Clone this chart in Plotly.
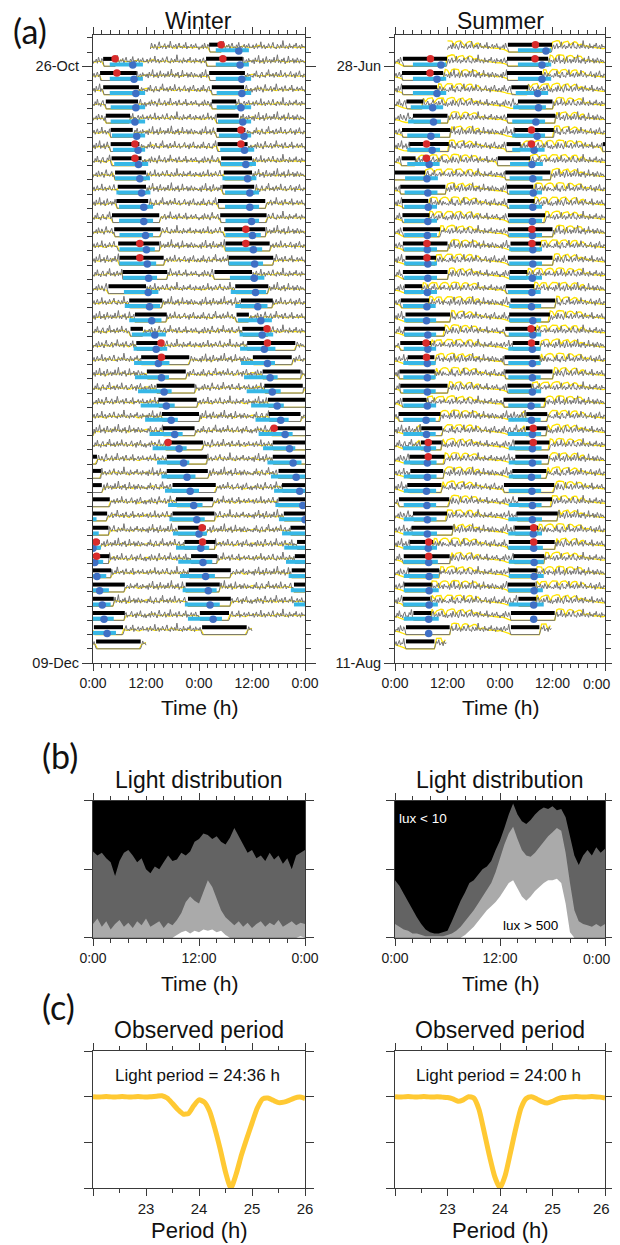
import plotly.graph_objects as go

# The page body adds an 8 px margin, so the figure is drawn 8 px in from the window corner;
# only the first 612 px of the window width are usable.
PAGE_W, PAGE_H, OFF = 620, 1245, 8
FIG_W, FIG_H = PAGE_W - OFF, PAGE_H - OFF
VISIBLE_RIGHT = 611
FONT = "Liberation Sans, Arial, Helvetica, sans-serif"
LABEL_FONT = "Lato, Open Sans, sans-serif"

# ---------------- tick labels ----------------
TIME_TICKS = [0, 12, 24, 36, 48]
TIME_LABELS = ["0:00", "12:00", "0:00", "12:00", "0:00"]
DAY_TICKS = [0, 12, 24]
DAY_LABELS = ["0:00", "12:00", "0:00"]
DATE_ROWS = [2, 9, 16, 23, 30, 37, 44]
W_DATE_LABELS = ["26-Oct", "", "", "", "", "", "09-Dec"]
S_DATE_LABELS = ["28-Jun", "", "", "", "", "", "11-Aug"]
N_ROWS = 43
PERIOD_TICKS = [22, 23, 24, 25, 26]
PERIOD_LABELS = ["", "23", "24", "25", "26"]

# ---------------- (a) Winter episodes, days 2..42 (hours from that day's midnight) ----------------
W_FIRST_DAY = 2
W_BLACK_S = [2.3, 1.6, 2.3, 2.9, 2.9, 4.0, 4.0, 4.2, 5.0, 5.6, 5.3, 4.3, 4.8, 5.7, 6.0, 6.7, 3.5, 8.2, 9.5, 8.5,
             9.8, 10.9, 12.2, 14.4, 14.8, 15.6, 15.8, 16.3, 16.7, 16.7, 18.0, 18.8, 18.0, 19.2, 20.7, 22.2, 21.7,
             21.0, 21.5, 24.2, 24.7]
W_BLACK_E = [5.0, 9.9, 10.4, 10.2, 8.4, 9.0, 10.5, 11.0, 12.0, 12.0, 12.5, 15.0, 15.3, 15.0, 16.0, 16.8, 12.0,
             15.7, 16.7, 11.3, 15.6, 21.8, 21.0, 23.0, 23.5, 24.0, 23.0, 24.9, 25.8, 26.0, 27.8, 27.2, 27.5, 25.5,
             27.7, 28.1, 31.2, 28.7, 31.2, 30.8, 34.8]
W_CYAN_S = [3.8, 3.8, 3.8, 4.0, 4.0, 4.3, 4.5, 4.8, 5.0, 5.3, 5.9, 5.9, 6.0, 6.0, 6.0, 6.8, 7.0, 7.2, 8.2, 8.8,
            9.2, 9.3, 9.5, 10.2, 10.8, 11.8, 12.8, 13.5, 14.5, 15.5, 16.3, 17.0, 17.3, 18.1, 18.8, 19.3, 19.7,
            20.3, 20.8, 21.5, None]
W_CYAN_E = [11.3, 11.3, 11.8, 11.8, 11.8, 11.8, 11.8, 12.5, 12.9, 13.0, 13.6, 13.6, 13.6, 14.0, 14.3, 14.5, 14.8,
            15.2, 15.5, 16.5, 16.8, 17.3, 17.2, 17.8, 18.5, 19.2, 20.3, 21.2, 21.8, 23.2, 24.0, 24.8, 25.3, 25.8,
            26.3, 27.0, 27.6, 28.0, 28.7, 29.2, None]
W_BLUE = [9.0, 9.3, 9.7, 9.7, 9.5, 9.9, 10.2, 10.3, 10.6, 11.0, 11.5, 11.5, 11.9, 12.1, 12.3, 12.6, 12.5, 12.8,
          13.3, 14.0, 14.3, 14.8, 15.5, 16.1, 16.6, 17.7, 18.5, 19.5, 20.5, 21.3, 22.0, 22.8, 23.5, 24.0, 24.4,
          24.9, 25.5, 26.1, 26.5, 27.2, None]
W_RED = [5.0, 5.4, None, None, None, None, 9.5, 9.5, None, None, None, None, None, 10.6, 10.6, None, None, None,
         None, None, 15.4, 15.5, None, None, None, None, None, 17.0, None, None, None, None, None, 24.7, 24.8,
         None, None, None, None, None, None]
W_DATA_START = (1, 13.0)
W_DATA_END = (43, 12.0)

# ---------------- (a) Summer episodes, days 2..43 ----------------
S_FIRST_DAY = 2
S_BLACK_S = [1.8, 1.6, 1.6, 2.6, 4.1, 1.6, 3.3, 1.5, -0.5, 1.2, 1.6, 1.7, 1.8, 1.8, 2.4, 1.8, 2.2, 1.3, 2.4, 2.1,
             1.2, 2.9, 1.0, 1.2, 1.7, 0.8, 6.0, 5.9, 3.3, 3.5, 2.8, 0.9, 4.1, 3.8, 3.4, 2.0, 3.1, 2.1, 1.8, 4.2,
             2.5, 2.5]
S_BLACK_E = [11.9, 11.0, 9.6, 6.4, 12.0, 12.6, 12.3, 4.7, 6.9, 11.5, 7.6, 7.9, 10.3, 12.0, 9.4, 12.0, 6.2, 7.8,
             12.6, 11.4, 8.2, 9.0, 9.1, 12.0, 7.2, 10.4, 10.8, 10.6, 11.3, 11.0, 10.6, 12.4, 11.9, 13.2, 8.7, 12.5,
             10.1, 8.4, 8.0, 8.3, 12.5, 9.0]
S_CYAN_S = [4.1, 4.1, 4.1, 3.6, 3.0, 2.8, 2.8, 2.8, 2.3, 2.2, 2.1, 2.1, 2.1, 2.1, 2.1, 2.1, 2.1, 1.8, 2.1, 2.1,
            2.0, 1.9, 1.9, 1.9, 1.9, 1.9, 1.9, 1.8, 2.0, 2.0, 2.0, 2.0, 2.0, 1.9, 1.9, 1.9, 2.0, 2.0, 1.9, 2.0,
            None, None]
S_CYAN_E = [11.7, 11.7, 11.7, 11.0, 10.5, 10.3, 10.3, 10.2, 9.8, 9.7, 9.6, 9.6, 9.6, 9.6, 9.6, 9.6, 9.6, 9.3,
            9.4, 9.4, 9.4, 9.3, 9.3, 9.3, 9.4, 9.3, 9.3, 9.4, 9.5, 9.5, 9.4, 9.4, 9.5, 9.6, 9.6, 9.8, 10.0, 10.0,
            9.8, 10.0, None, None]
S_BLUE = [10.5, 9.6, 9.6, 8.6, 8.8, 8.2, 8.5, 7.8, 7.3, 7.5, 7.6, 7.5, 7.4, 7.4, 7.5, 7.5, 7.4, 7.3, 7.2, 7.5,
          7.5, 7.4, 7.4, 7.4, 7.4, 7.1, 7.2, 7.4, 7.4, 7.4, 7.2, 7.3, 7.4, 7.4, 7.6, 7.7, 7.8, 7.8, 7.8, 7.7,
          7.7, None]
S_RED = [8.1, 8.0, None, None, None, None, 7.2, 7.2, None, None, None, None, None, 7.3, 7.3, None, None, None,
         None, None, 7.1, 7.2, None, None, None, None, None, 7.6, 7.6, None, None, None, None, None, 7.7, 7.7,
         None, None, None, None, None, None]
S_DATA_START = (1, 12.0)
S_DATA_END = (43, 11.8)

# ---------------- activity counts (15-min bins, 12 h per block) and light (30-min bins) ----------------
ACT_1 = [0.30, 0.55, 0.20, 0.70, 0.35, 0.45, 0.90, 0.25, 0.50, 0.35, 0.65, 0.20, 0.45, 0.80, 0.30, 0.40, 0.60,
         0.25, 0.55, 0.35, 0.75, 0.30, 0.45, 0.95, 0.30, 0.50, 0.25, 0.60, 0.40, 0.70, 0.20, 0.45, 0.35, 0.85,
         0.30, 0.50, 0.40, 0.65, 0.25, 0.55, 0.30, 0.70, 0.45, 0.25, 0.60, 0.35, 0.50, 0.30]
ACT_2 = [0.40, 0.25, 0.60, 0.35, 0.80, 0.30, 0.45, 0.20, 0.55, 0.70, 0.30, 0.40, 0.25, 0.65, 0.45, 0.90, 0.30,
         0.50, 0.35, 0.60, 0.25, 0.45, 0.70, 0.30, 0.55, 0.35, 0.85, 0.40, 0.30, 0.50, 0.65, 0.25, 0.45, 0.35,
         0.60, 0.75, 0.30, 0.40, 0.55, 0.20, 0.65, 0.35, 0.50, 0.80, 0.30, 0.45, 0.25, 0.55]
ACT_3 = [0.20, 0.45, 0.35, 0.60, 0.25, 0.75, 0.40, 0.30, 0.65, 0.45, 0.20, 0.55, 0.85, 0.35, 0.50, 0.30, 0.45,
         0.70, 0.25, 0.40, 0.60, 0.35, 0.90, 0.45, 0.30, 0.55, 0.40, 0.65, 0.25, 0.50, 0.75, 0.35, 0.45, 0.30,
         0.60, 0.40, 0.80, 0.25, 0.50, 0.35, 0.45, 0.65, 0.30, 0.55, 0.40, 0.70, 0.35, 0.45]
ACT_4 = [0.35, 0.60, 0.25, 0.45, 0.70, 0.30, 0.50, 0.40, 0.85, 0.30, 0.45, 0.60, 0.25, 0.50, 0.35, 0.70, 0.45,
         0.30, 0.55, 0.80, 0.35, 0.40, 0.25, 0.65, 0.45, 0.30, 0.60, 0.35, 0.95, 0.40, 0.30, 0.55, 0.45, 0.25,
         0.70, 0.35, 0.50, 0.30, 0.60, 0.45, 0.75, 0.30, 0.40, 0.55, 0.25, 0.65, 0.40, 0.50]
ACT_TEMPLATES = [ACT_1, ACT_2, ACT_3, ACT_4]

WL_1 = [0.35, 0.36, 0.38, 0.40, 0.40, 0.32, 0.30, 0.42, 0.45, 0.44, 0.38, 0.38, 0.42, 0.50, 0.48, 0.35, 0.36,
        0.40, 0.41, 0.45, 0.32, 0.30, 0.38, 0.42, 0.43, 0.48, 0.47, 0.40, 0.35, 0.36, 0.45, 0.44, 0.40, 0.38,
        0.37, 0.50, 0.52, 0.40, 0.41, 0.35, 0.34, 0.42, 0.45, 0.44, 0.38, 0.37, 0.36, 0.35]
WL_2 = [0.40, 0.38, 0.33, 0.33, 0.45, 0.46, 0.40, 0.36, 0.36, 0.55, 0.50, 0.42, 0.38, 0.38, 0.44, 0.44, 0.30,
        0.34, 0.48, 0.47, 0.40, 0.40, 0.36, 0.45, 0.52, 0.50, 0.38, 0.37, 0.42, 0.42, 0.35, 0.48, 0.46, 0.40,
        0.44, 0.44, 0.36, 0.33, 0.40, 0.47, 0.45, 0.38, 0.38, 0.42, 0.40, 0.35, 0.36, 0.40]
WL_3 = [0.32, 0.34, 0.42, 0.42, 0.38, 0.36, 0.46, 0.48, 0.40, 0.35, 0.35, 0.44, 0.44, 0.52, 0.45, 0.38, 0.40,
        0.40, 0.33, 0.46, 0.50, 0.42, 0.42, 0.36, 0.38, 0.46, 0.45, 0.55, 0.48, 0.40, 0.38, 0.38, 0.43, 0.47,
        0.36, 0.34, 0.44, 0.45, 0.40, 0.40, 0.37, 0.48, 0.46, 0.39, 0.36, 0.42, 0.41, 0.34]
W_LIGHT = [WL_1, WL_2, WL_3]

SL_1 = [0.30, 0.28, 0.22, 0.15, 0.08, 0.05, 0.05, 0.08, 0.15, 0.30, 0.50, 0.75, 0.88, 0.90, 0.86, 0.45, 0.80,
        0.92, 0.90, 0.88, 0.35, 0.78, 0.90, 0.92, 0.85, 0.50, 0.88, 0.95, 0.93, 0.90, 0.40, 0.82, 0.90, 0.86,
        0.65, 0.78, 0.84, 0.82, 0.55, 0.45, 0.55, 0.50, 0.42, 0.35, 0.40, 0.36, 0.32, 0.30]
SL_2 = [0.35, 0.30, 0.25, 0.18, 0.10, 0.06, 0.05, 0.10, 0.20, 0.40, 0.65, 0.85, 0.90, 0.50, 0.82, 0.92, 0.95,
        0.90, 0.60, 0.86, 0.90, 0.88, 0.40, 0.75, 0.92, 0.94, 0.90, 0.55, 0.85, 0.90, 0.92, 0.70, 0.50, 0.80,
        0.88, 0.85, 0.45, 0.70, 0.75, 0.50, 0.42, 0.45, 0.38, 0.40, 0.33, 0.36, 0.30, 0.32]
SL_3 = [0.28, 0.30, 0.20, 0.12, 0.08, 0.05, 0.06, 0.12, 0.25, 0.45, 0.60, 0.80, 0.92, 0.88, 0.60, 0.85, 0.90,
        0.93, 0.50, 0.78, 0.88, 0.92, 0.90, 0.45, 0.82, 0.90, 0.95, 0.92, 0.50, 0.80, 0.88, 0.90, 0.60, 0.75,
        0.85, 0.80, 0.55, 0.65, 0.60, 0.48, 0.50, 0.40, 0.45, 0.38, 0.35, 0.33, 0.30, 0.28]
S_LIGHT = [SL_1, SL_2, SL_3]

# ---------------- (b) light distribution: fraction of days per half hour ----------------
HALF_HOURS = [0.0, 0.5, 1.0, 1.5, 2.0, 2.5, 3.0, 3.5, 4.0, 4.5, 5.0, 5.5, 6.0, 6.5, 7.0, 7.5, 8.0, 8.5, 9.0, 9.5,
              10.0, 10.5, 11.0, 11.5, 12.0, 12.5, 13.0, 13.5, 14.0, 14.5, 15.0, 15.5, 16.0, 16.5, 17.0, 17.5,
              18.0, 18.5, 19.0, 19.5, 20.0, 20.5, 21.0, 21.5, 22.0, 22.5, 23.0, 23.5, 24.0]
WB_DARK = [0.63, 0.60, 0.62, 0.58, 0.55, 0.45, 0.56, 0.62, 0.64, 0.60, 0.55, 0.58, 0.50, 0.47, 0.52, 0.50, 0.55,
           0.60, 0.56, 0.57, 0.62, 0.60, 0.63, 0.70, 0.72, 0.76, 0.75, 0.72, 0.74, 0.70, 0.68, 0.73, 0.80, 0.74,
           0.68, 0.62, 0.64, 0.58, 0.60, 0.56, 0.62, 0.57, 0.60, 0.54, 0.58, 0.50, 0.60, 0.62, 0.64]
WB_LIGHT = [0.10, 0.14, 0.08, 0.12, 0.06, 0.10, 0.13, 0.08, 0.11, 0.07, 0.12, 0.09, 0.14, 0.08, 0.10, 0.12, 0.07,
            0.11, 0.09, 0.13, 0.18, 0.26, 0.30, 0.27, 0.25, 0.33, 0.42, 0.37, 0.28, 0.20, 0.15, 0.12, 0.09, 0.12,
            0.08, 0.11, 0.07, 0.10, 0.12, 0.08, 0.11, 0.09, 0.13, 0.08, 0.10, 0.12, 0.09, 0.11, 0.10]
WB_WHITE = [0, 0, 0, 0, 0, 0, 0, 0, 0, 0, 0, 0, 0, 0, 0, 0, 0, 0, 0, 0.02, 0.04, 0.05, 0.03, 0.05, 0.04, 0.06,
            0.05, 0.06, 0.04, 0.05, 0.02, 0, 0, 0, 0, 0, 0, 0, 0, 0, 0, 0, 0, 0, 0, 0, 0, 0.01, 0]
SB_DARK = [0.42, 0.38, 0.32, 0.26, 0.20, 0.15, 0.10, 0.06, 0.04, 0.03, 0.03, 0.04, 0.05, 0.12, 0.20, 0.27, 0.33,
           0.40, 0.42, 0.46, 0.50, 0.52, 0.56, 0.64, 0.71, 0.80, 0.90, 0.98, 0.90, 0.85, 0.83, 0.86, 0.90, 0.93,
           0.95, 0.94, 0.96, 0.93, 0.94, 0.88, 0.74, 0.60, 0.53, 0.60, 0.64, 0.60, 0.66, 0.62, 0.65]
SB_LIGHT = [0.10, 0.08, 0.06, 0.05, 0.03, 0.03, 0.02, 0.01, 0.01, 0.01, 0.01, 0.01, 0.02, 0.03, 0.05, 0.08, 0.12,
            0.16, 0.20, 0.25, 0.30, 0.34, 0.40, 0.48, 0.58, 0.68, 0.76, 0.81, 0.72, 0.64, 0.60, 0.59, 0.62, 0.66,
            0.70, 0.74, 0.77, 0.80, 0.78, 0.62, 0.40, 0.20, 0.12, 0.10, 0.09, 0.08, 0.10, 0.08, 0.10]
SB_WHITE = [0, 0, 0, 0, 0, 0, 0, 0, 0, 0, 0, 0, 0, 0, 0, 0, 0.02, 0.05, 0.08, 0.12, 0.16, 0.20, 0.23, 0.26, 0.30,
            0.35, 0.40, 0.42, 0.36, 0.30, 0.27, 0.30, 0.34, 0.37, 0.40, 0.42, 0.42, 0.43, 0.40, 0.25, 0.04, 0, 0,
            0, 0, 0, 0, 0, 0]

# ---------------- (c) observed period ----------------
PERIOD_H = [22.0, 22.1, 22.2, 22.3, 22.4, 22.5, 22.6, 22.7, 22.8, 22.9, 23.0, 23.1, 23.2, 23.3, 23.4, 23.5, 23.6,
            23.7, 23.8, 23.9, 24.0, 24.1, 24.2, 24.3, 24.4, 24.5, 24.6, 24.7, 24.8, 24.9, 25.0, 25.1, 25.2, 25.3,
            25.4, 25.5, 25.6, 25.7, 25.8, 25.9, 26.0]
W_PERIODOGRAM = [2.00, 1.99, 2.00, 2.00, 1.99, 2.00, 2.00, 1.99, 2.00, 2.00, 1.99, 2.00, 2.01, 2.02, 1.97, 1.85,
                 1.72, 1.62, 1.63, 1.80, 1.93, 1.88, 1.68, 1.30, 0.85, 0.35, 0.00, 0.30, 0.72, 1.08, 1.42, 1.75,
                 1.95, 1.97, 1.92, 1.87, 1.88, 1.92, 1.97, 1.99, 1.96]
S_PERIODOGRAM = [2.00, 1.99, 2.00, 2.00, 1.99, 2.00, 2.00, 1.99, 2.00, 1.99, 1.98, 1.95, 1.90, 1.93, 2.00, 1.97,
                 1.72, 1.22, 0.70, 0.25, 0.00, 0.28, 0.78, 1.30, 1.75, 1.96, 2.00, 1.95, 1.89, 1.86, 1.90, 1.95,
                 1.98, 1.99, 2.00, 2.00, 1.99, 2.00, 2.00, 1.99, 1.97]
W_PERIOD_TEXT = "Light period = 24:36 h"
S_PERIOD_TEXT = "Light period = 24:00 h"

# ---------------- styling ----------------
TRACE_SCALE = 0.85
BLACK_OFF, CYAN_OFF, BLUE_OFF = 0.52, 0.12, 0.08
AX = "#3a3a3a"
GRAY, YELLOW, CYAN, BLUE, RED = "#747474", "#FFE400", "#36B7E6", "#3F6FC4", "#D92B2B"
PER_COLOR = "#FFC933"


def px_x(p):
    return (p - OFF) / FIG_W


def px_y(p):
    return 1 - (p - OFF) / FIG_H


def build_actogram(first_day, bs, be, cs, ce, blue, red, start, end, light_tpl):
    days = [first_day + i for i in range(len(bs))]
    sleep = [(24 * d + s, 24 * d + e) for d, s, e in zip(days, bs, be)]
    t0 = 24 * start[0] + start[1]
    t1 = 24 * end[0] + end[1]

    def asleep(t):
        return any(s <= t <= e for s, e in sleep)

    act, light = [], []
    for d in range(start[0], end[0] + 1):
        for i in range(96):
            t = 24 * d + 0.25 * i
            if t0 <= t <= t1:
                block = ACT_TEMPLATES[(d + i // 48) % 4]
                act.append((t, 0.0 if asleep(t) else block[i % 48]))
        for i in range(48):
            t = 24 * d + 0.5 * i
            if t0 <= t <= t1:
                light.append((t, 0.0 if asleep(t) else light_tpl[d % 3][i]))
    out = {k: ([], []) for k in ("act", "light", "black", "cyan", "blue", "red")}

    def seg(key, s, e, lo, hi, yb):
        a, b = max(s, lo), min(e, hi)
        if a < b:
            xs, ys = out[key]
            xs.extend([a - lo, b - lo, None])
            ys.extend([yb, yb, None])

    for k in range(1, N_ROWS + 1):
        lo, hi = 24 * k, 24 * k + 48
        for key, samples in (("act", act), ("light", light)):
            row = [p for p in samples if lo <= p[0] <= hi]
            if row:
                xs, ys = out[key]
                xs.extend([p[0] - lo for p in row])
                xs.append(None)
                ys.extend([-k + TRACE_SCALE * p[1] for p in row])
                ys.append(None)
        for j, d in enumerate(days):
            base = 24 * d
            seg("black", base + bs[j], base + be[j], lo, hi, -k + BLACK_OFF)
            if cs[j] is not None:
                seg("cyan", base + cs[j], base + ce[j], lo, hi, -k + CYAN_OFF)
            if blue[j] is not None and lo <= base + blue[j] <= hi:
                out["blue"][0].append(base + blue[j] - lo)
                out["blue"][1].append(-k + BLUE_OFF)
            if red[j] is not None and lo <= base + red[j] <= hi:
                out["red"][0].append(base + red[j] - lo)
                out["red"][1].append(-k + BLACK_OFF)
    return out


fig = go.Figure()


def add_actogram(data, xa, ya, light_width):
    fig.add_trace(go.Scatter(x=data["light"][0], y=data["light"][1], mode="lines",
                             line=dict(color=YELLOW, width=light_width), xaxis=xa, yaxis=ya))
    fig.add_trace(go.Scatter(x=data["act"][0], y=data["act"][1], mode="lines",
                             line=dict(color=GRAY, width=1.0), xaxis=xa, yaxis=ya))
    fig.add_trace(go.Scatter(x=data["black"][0], y=data["black"][1], mode="lines",
                             line=dict(color="#000000", width=4), xaxis=xa, yaxis=ya))
    fig.add_trace(go.Scatter(x=data["cyan"][0], y=data["cyan"][1], mode="lines",
                             line=dict(color=CYAN, width=4), xaxis=xa, yaxis=ya))
    fig.add_trace(go.Scatter(x=data["blue"][0], y=data["blue"][1], mode="markers",
                             marker=dict(color=BLUE, size=7.5, line=dict(width=0)), xaxis=xa, yaxis=ya))
    fig.add_trace(go.Scatter(x=data["red"][0], y=data["red"][1], mode="markers",
                             marker=dict(color=RED, size=7.5, line=dict(width=0)), xaxis=xa, yaxis=ya))


w_data = build_actogram(W_FIRST_DAY, W_BLACK_S, W_BLACK_E, W_CYAN_S, W_CYAN_E, W_BLUE, W_RED,
                        W_DATA_START, W_DATA_END, W_LIGHT)
s_data = build_actogram(S_FIRST_DAY, S_BLACK_S, S_BLACK_E, S_CYAN_S, S_CYAN_E, S_BLUE, S_RED,
                        S_DATA_START, S_DATA_END, S_LIGHT)
add_actogram(w_data, "x", "y", 1.1)
add_actogram(s_data, "x2", "y2", 1.3)


def add_distribution(dark, light, white, xa, ya):
    full = [1.0 for _ in HALF_HOURS]
    for vals, col in ((full, "#000000"), (dark, "#636363"), (light, "#AAAAAA"), (white, "#FFFFFF")):
        fig.add_trace(go.Scatter(x=HALF_HOURS, y=vals, mode="lines", fill="tozeroy", fillcolor=col,
                                 line=dict(width=0, color=col), xaxis=xa, yaxis=ya))


add_distribution(WB_DARK, WB_LIGHT, WB_WHITE, "x3", "y3")
add_distribution(SB_DARK, SB_LIGHT, SB_WHITE, "x4", "y4")

fig.add_trace(go.Scatter(x=PERIOD_H, y=W_PERIODOGRAM, mode="lines", line=dict(color=PER_COLOR, width=5,
                         shape="spline", smoothing=0.6), xaxis="x5", yaxis="y5"))
fig.add_trace(go.Scatter(x=PERIOD_H, y=S_PERIODOGRAM, mode="lines", line=dict(color=PER_COLOR, width=5,
                         shape="spline", smoothing=0.6), xaxis="x6", yaxis="y6"))

# ---------------- axes (domains from window pixel positions) ----------------
XW = [px_x(93), px_x(305)]
XS = [px_x(395), px_x(605)]
YA = [px_y(663), px_y(35)]
YB = [px_y(937.7), px_y(800.7)]
YC = [px_y(1188), px_y(1051)]

TICKFONT = dict(family=FONT, size=14, color="#1a1a1a")
PERIOD_TICKFONT = dict(family=FONT, size=15, color="#1a1a1a")


def axis(domain, anchor, **kw):
    d = dict(domain=domain, anchor=anchor, showline=True, linecolor=AX, linewidth=1, mirror="ticks",
             ticks="outside", tickcolor=AX, tickwidth=1, showgrid=False, zeroline=False, tickfont=TICKFONT,
             fixedrange=True, automargin=False)
    d.update(kw)
    return d


def time_axis(domain, anchor, vals, labels, rng):
    return axis(domain, anchor, range=rng, tickmode="array", tickvals=vals, ticktext=labels, ticklen=7,
                minor=dict(tickmode="linear", tick0=0, dtick=2, ticklen=4, ticks="outside", tickcolor=AX))


def date_axis(domain, anchor, labels):
    return axis(domain, anchor, range=[-44, 0.2], tickmode="array", tickvals=[-r for r in DATE_ROWS],
                ticktext=labels, ticklen=10, tickfont=dict(family=FONT, size=14.5, color="#1a1a1a"),
                minor=dict(tickmode="array", tickvals=[-r for r in range(0, 45)], ticklen=5, ticks="outside",
                           tickcolor=AX))


def period_axis(domain, anchor, labels):
    return axis(domain, anchor, range=[22, 26], tickmode="array", tickvals=PERIOD_TICKS, ticktext=labels,
                ticklen=7, tickfont=PERIOD_TICKFONT,
                minor=dict(tickmode="array", tickvals=[22.5, 23.5, 24.5, 25.5], ticklen=4, ticks="outside",
                           tickcolor=AX))


# the right-most tick label of each Summer panel would run past the usable window width,
# so it is written as a right-aligned annotation instead
S_TIME_LABELS = TIME_LABELS[:-1] + [""]
S_DAY_LABELS = DAY_LABELS[:-1] + [""]
S_PERIOD_LABELS = PERIOD_LABELS[:-1] + [""]

fig.update_layout(
    xaxis=time_axis(XW, "y", TIME_TICKS, TIME_LABELS, [0, 48]),
    yaxis=date_axis(YA, "x", W_DATE_LABELS),
    xaxis2=time_axis(XS, "y2", TIME_TICKS, S_TIME_LABELS, [0, 48]),
    yaxis2=date_axis(YA, "x2", S_DATE_LABELS),
    xaxis3=time_axis(XW, "y3", DAY_TICKS, DAY_LABELS, [0, 24]),
    yaxis3=axis(YB, "x3", range=[0, 1], tickvals=[0, 0.5, 1], showticklabels=False, ticklen=8),
    xaxis4=time_axis(XS, "y4", DAY_TICKS, S_DAY_LABELS, [0, 24]),
    yaxis4=axis(YB, "x4", range=[0, 1], tickvals=[0, 0.5, 1], showticklabels=False, ticklen=8),
    xaxis5=period_axis(XW, "y5", PERIOD_LABELS),
    yaxis5=axis(YC, "x5", range=[0, 3], tickvals=[0, 1, 2, 3], showticklabels=False, ticklen=8),
    xaxis6=period_axis(XS, "y6", S_PERIOD_LABELS),
    yaxis6=axis(YC, "x6", range=[0, 3], tickvals=[0, 1, 2, 3], showticklabels=False, ticklen=8),
)


def txt(s, x, y, size, family=FONT, color="#111111", xanchor="center"):
    return dict(text=s, x=px_x(x), y=px_y(y), xref="paper", yref="paper", showarrow=False,
                xanchor=xanchor, yanchor="middle", font=dict(family=family, size=size, color=color),
                borderpad=0)


ann = [
    txt("(a)", 30, 30, 34, LABEL_FONT),
    txt("(b)", 60, 755, 34, LABEL_FONT),
    txt("(c)", 58, 1006, 34, LABEL_FONT),
    txt("Winter", 198, 21, 23),
    txt("Summer", 500, 21, 23),
    txt("Time (h)", 199, 707, 21),
    txt("Time (h)", 500, 707, 21),
    txt("Light distribution", 199, 780, 23),
    txt("Light distribution", 500, 780, 23),
    txt("Time (h)", 199, 983, 21),
    txt("Time (h)", 500, 983, 21),
    txt("lux &lt; 10", 423, 818, 13.5, color="#FFFFFF"),
    txt("lux &gt; 500", 530, 925, 13.5, color="#000000"),
    txt("Observed period", 199, 1030, 23),
    txt("Observed period", 500, 1030, 23),
    txt(W_PERIOD_TEXT, 197, 1075, 17),
    txt(S_PERIOD_TEXT, 498, 1075, 17),
    txt("Period (h)", 199, 1230, 22),
    txt("Period (h)", 500, 1230, 22),
    txt(TIME_LABELS[-1], VISIBLE_RIGHT, 684, 14, color="#1a1a1a", xanchor="right"),
    txt(DAY_LABELS[-1], VISIBLE_RIGHT, 958.5, 14, color="#1a1a1a", xanchor="right"),
    txt(PERIOD_LABELS[-1], VISIBLE_RIGHT, 1208, 15, color="#1a1a1a", xanchor="right"),
]

fig.update_layout(width=FIG_W, height=FIG_H, margin=dict(l=0, r=0, t=0, b=0, autoexpand=False),
                  showlegend=False, paper_bgcolor="#FFFFFF", plot_bgcolor="#FFFFFF", annotations=ann,
                  font=dict(family=FONT, color="#111111"))

fig.write_html("out.html")
